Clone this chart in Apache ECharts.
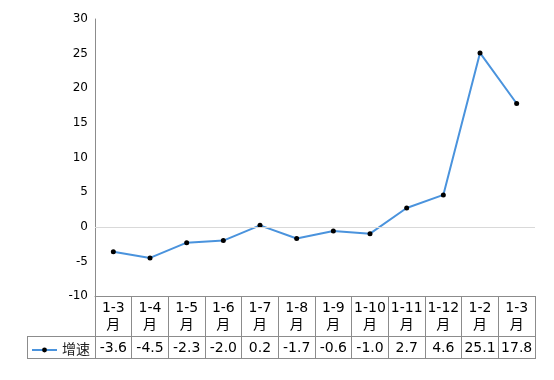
<!DOCTYPE html>
<html>
<head>
<meta charset="utf-8">
<script src="https://cdn.jsdelivr.net/npm/echarts@6/dist/echarts.min.js"></script>
<style>
  html, body { margin: 0; padding: 0; background: #fff; }
  #chart { width: 554px; height: 380px; }
</style>
</head>
<body>
<div id="chart"></div>
<script>
// 月份（累计）
var months = ['1-3\n月', '1-4\n月', '1-5\n月', '1-6\n月', '1-7\n月', '1-8\n月', '1-9\n月', '1-10\n月', '1-11\n月', '1-12\n月', '1-2\n月', '1-3\n月'];
// 增速 %
var growth = [-3.6, -4.5, -2.3, -2.0, 0.2, -1.7, -0.6, -1.0, 2.7, 4.6, 25.1, 17.8];
var yTicks = { min: -10, max: 30, interval: 5 };

var font = "'DejaVu Sans', 'Noto Sans CJK SC', sans-serif";
var border = '#8c8c8c';

var myChart = echarts.init(document.getElementById('chart'));
var option = {
  animation: false,
  textStyle: { fontFamily: font },
  grid: { left: 95, right: 19, top: 19, bottom: 84 },
  legend: {
    left: 31, top: 343, padding: 0,
    itemWidth: 25, itemHeight: 6, itemGap: 4,
    textStyle: { fontSize: 14, color: '#222', fontFamily: font },
    data: ['增速']
  },
  xAxis: [
    {
      type: 'category',
      data: months,
      boundaryGap: true,
      axisLine: { onZero: false, lineStyle: { color: border } },
      axisTick: { show: true, inside: false, length: 63, lineStyle: { color: border } },
      axisLabel: { color: '#000', fontSize: 14, lineHeight: 17, margin: 4, interval: 0 }
    },
    {
      type: 'category',
      position: 'bottom',
      offset: 41,
      data: growth.map(function (v) { return v.toFixed(1); }),
      axisLine: { show: false, onZero: false },
      axisTick: { show: false },
      axisLabel: { color: '#000', fontSize: 14, margin: 4, interval: 0 }
    }
  ],
  yAxis: {
    type: 'value',
    min: yTicks.min, max: yTicks.max, interval: yTicks.interval,
    axisLine: { show: true, lineStyle: { color: border } },
    axisTick: { show: false },
    splitLine: { show: false },
    axisLabel: { color: '#000', fontSize: 12, margin: 7 }
  },
  series: [
    {
      name: '增速',
      type: 'line',
      data: growth,
      symbol: 'circle',
      symbolSize: 5,
      lineStyle: { color: '#4a93dd', width: 2 },
      itemStyle: { color: '#000' },
      markLine: {
        silent: true,
        symbol: 'none',
        label: { show: false },
        lineStyle: { color: '#d9d9d9', width: 1, type: 'solid' },
        data: [{ yAxis: 0 }]
      }
    }
  ],
  graphic: [
    // 数据表边框
    { type: 'line', shape: { x1: 27, y1: 336.5, x2: 535, y2: 336.5 }, style: { stroke: border, lineWidth: 1 } },
    { type: 'line', shape: { x1: 27, y1: 358.5, x2: 535, y2: 358.5 }, style: { stroke: border, lineWidth: 1 } },
    { type: 'line', shape: { x1: 27.5, y1: 336, x2: 27.5, y2: 359 }, style: { stroke: border, lineWidth: 1 } }
  ]
};
myChart.setOption(option);
</script>
</body>
</html>
